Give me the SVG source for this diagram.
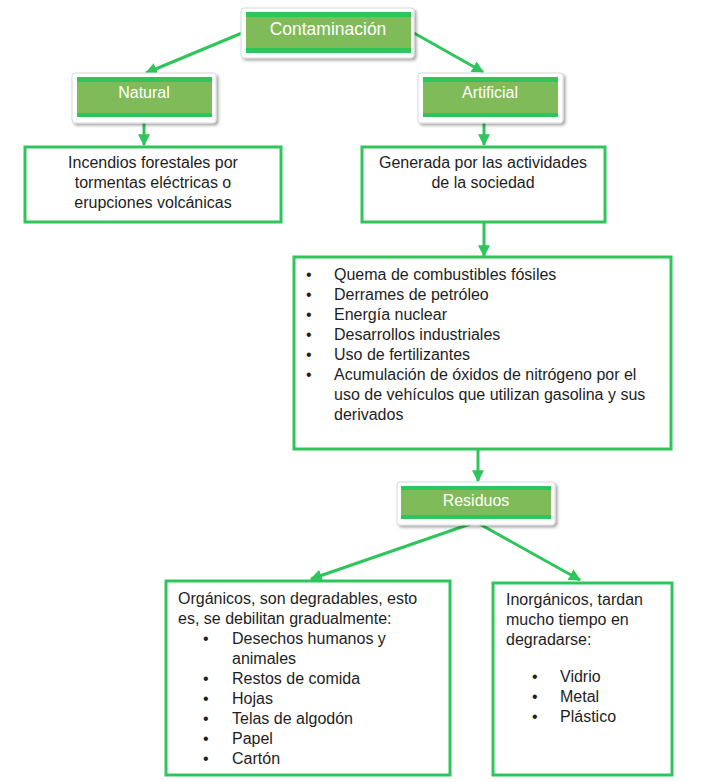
<svg xmlns="http://www.w3.org/2000/svg" width="713" height="782" viewBox="0 0 713 782">
<defs>
<style>
.hdr-out{fill:#ffffff;stroke:#d8d8d8;stroke-width:1}
.hdr-in{fill:#80bb5a}
.stripe{fill:#2ec55a}
.hdr-t{font-family:"Liberation Sans",Arial,sans-serif;font-size:16px;fill:#ffffff;text-anchor:middle}
.box{fill:#ffffff;stroke:#2ec55a;stroke-width:3}
.t{font-family:"Liberation Sans",Arial,sans-serif;font-size:16px;fill:#1e1e1e}
.c{text-anchor:middle}
.con{stroke:#2ec55a;stroke-width:3;fill:none;marker-end:url(#ah)}
</style>
<marker id="ah" viewBox="0 0 10 10" refX="9" refY="5" markerWidth="4" markerHeight="4" orient="auto" markerUnits="strokeWidth">
<path d="M0,0 L10,5 L0,10 z" fill="#2ec55a"/>
</marker>
<filter id="sh" x="-10%" y="-20%" width="125%" height="150%">
<feDropShadow dx="2" dy="2" stdDeviation="1.5" flood-color="#000" flood-opacity="0.35"/>
</filter>
</defs>

<g id="connectors">
<line class="con" x1="242" y1="33" x2="146" y2="73"/>
<line class="con" x1="414" y1="33" x2="483" y2="72"/>
<line class="con" x1="144" y1="123" x2="144" y2="145"/>
<line class="con" x1="484" y1="123" x2="484" y2="145"/>
<line class="con" x1="484" y1="222" x2="484" y2="256"/>
<line class="con" x1="478" y1="449" x2="478" y2="481"/>
<line class="con" x1="476" y1="522" x2="311" y2="579"/>
<line class="con" x1="476" y1="522" x2="580" y2="580"/>
</g>

<g id="contaminacion">
<rect class="hdr-out" x="241" y="8" width="173" height="50" rx="3" filter="url(#sh)"/>
<rect class="hdr-in" x="246" y="12" width="165" height="41"/>
<rect class="stripe" x="246" y="12" width="165" height="5"/>
<rect class="stripe" x="246" y="48" width="165" height="5"/>
<text class="hdr-t" x="328" y="35" style="font-size:17.5px">Contaminación</text>
</g>

<g id="natural">
<rect class="hdr-out" x="72" y="73" width="144" height="50" rx="3" filter="url(#sh)"/>
<rect class="hdr-in" x="77" y="77" width="135" height="40"/>
<rect class="stripe" x="77" y="77" width="135" height="5"/>
<rect class="stripe" x="77" y="113" width="135" height="4"/>
<text class="hdr-t" x="144" y="98">Natural</text>
</g>

<g id="artificial">
<rect class="hdr-out" x="418" y="73" width="145" height="50" rx="3" filter="url(#sh)"/>
<rect class="hdr-in" x="423" y="77" width="135" height="40"/>
<rect class="stripe" x="423" y="77" width="135" height="5"/>
<rect class="stripe" x="423" y="113" width="135" height="4"/>
<text class="hdr-t" x="490" y="98">Artificial</text>
</g>

<g id="incendios">
<rect class="box" x="25" y="147" width="256" height="75"/>
<text class="t c" x="153" y="168">Incendios forestales por</text>
<text class="t c" x="153" y="188">tormentas eléctricas o</text>
<text class="t c" x="153" y="208">erupciones volcánicas</text>
</g>

<g id="generada">
<rect class="box" x="362" y="147" width="243" height="75"/>
<text class="t c" x="483" y="168">Generada por las actividades</text>
<text class="t c" x="483" y="188">de la sociedad</text>
</g>

<g id="causas">
<rect class="box" x="294" y="257" width="377" height="192"/>
<g class="t">
<text x="306" y="280">•</text><text x="334" y="280">Quema de combustibles fósiles</text>
<text x="306" y="300">•</text><text x="334" y="300">Derrames de petróleo</text>
<text x="306" y="320">•</text><text x="334" y="320">Energía nuclear</text>
<text x="306" y="340">•</text><text x="334" y="340">Desarrollos industriales</text>
<text x="306" y="360">•</text><text x="334" y="360">Uso de fertilizantes</text>
<text x="306" y="380">•</text><text x="334" y="380">Acumulación de óxidos de nitrógeno por el</text>
<text x="334" y="400">uso de vehículos que utilizan gasolina y sus</text>
<text x="334" y="420">derivados</text>
</g>
</g>

<g id="residuos">
<rect class="hdr-out" x="397" y="482" width="158" height="43" rx="3" filter="url(#sh)"/>
<rect class="hdr-in" x="401" y="486" width="150" height="33"/>
<rect class="stripe" x="401" y="486" width="150" height="4"/>
<rect class="stripe" x="401" y="515" width="150" height="4"/>
<text class="hdr-t" x="476" y="506">Residuos</text>
</g>

<g id="organicos">
<rect class="box" x="166" y="581" width="284" height="194"/>
<g class="t">
<text x="178" y="604">Orgánicos, son degradables, esto</text>
<text x="178" y="624">es, se debilitan gradualmente:</text>
<text x="203" y="644">•</text><text x="232" y="644">Desechos humanos y</text>
<text x="232" y="664">animales</text>
<text x="203" y="684">•</text><text x="232" y="684">Restos de comida</text>
<text x="203" y="704">•</text><text x="232" y="704">Hojas</text>
<text x="203" y="724">•</text><text x="232" y="724">Telas de algodón</text>
<text x="203" y="744">•</text><text x="232" y="744">Papel</text>
<text x="203" y="764">•</text><text x="232" y="764">Cartón</text>
</g>
</g>

<g id="inorganicos">
<rect class="box" x="493" y="583" width="179" height="192"/>
<g class="t">
<text x="506" y="605">Inorgánicos, tardan</text>
<text x="506" y="625">mucho tiempo en</text>
<text x="506" y="645">degradarse:</text>
<text x="532" y="682">•</text><text x="560" y="682">Vidrio</text>
<text x="532" y="702">•</text><text x="560" y="702">Metal</text>
<text x="532" y="722">•</text><text x="560" y="722">Plástico</text>
</g>
</g>
</svg>
